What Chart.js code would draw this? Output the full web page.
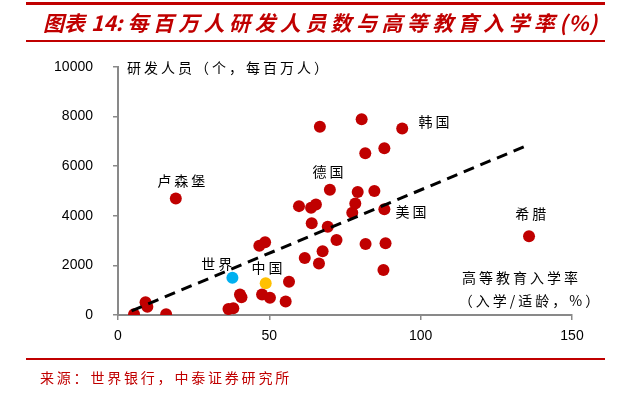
<!DOCTYPE html>
<html>
<head>
<meta charset="utf-8">
<script src="https://cdn.jsdelivr.net/npm/chart.js@4"></script>
<style>
  html, body { margin: 0; padding: 0; background: #fff; }
  #wrap { position: relative; width: 628px; height: 395px; overflow: hidden; }
  #c { position: absolute; left: 0; top: 0; }
  .rule { position: absolute; background: #C00000; }
  #title { position: absolute; left: 43px; top: 8px; white-space: nowrap; color: #C00000;
           font-family: "Noto Sans CJK SC", sans-serif; font-weight: bold; font-style: italic;
           font-size: 21px; line-height: 28px; }
  #title .n { margin-left: 6px; }
  #title .b { letter-spacing: 4.4px; }
  #title .p { letter-spacing: 1px; }
  #src { position: absolute; left: 40px; top: 367px; white-space: nowrap; color: #C00000;
         font-family: "Noto Sans CJK SC", sans-serif; font-size: 14px; letter-spacing: 2.8px; line-height: 20px; }
</style>
</head>
<body>
<div id="wrap">
  <canvas id="c" width="628" height="395"></canvas>
  <div class="rule" style="left:26px; top:2px; width:579px; height:3px;"></div>
  <div id="title">图表<span class="n">14:</span> <span class="b">每百万人研发人员数与高等教育入学率</span><span class="p">(%)</span></div>
  <div class="rule" style="left:26px; top:40px; width:579px; height:2px;"></div>
  <div class="rule" style="left:26px; top:358px; width:579px; height:2px;"></div>
  <div id="src">来源：世界银行，中泰证券研究所</div>
</div>
<script>
// ---- data ----
const otherX = [5.3, 9.1, 9.7, 15.9, 19.1, 36.5, 38.1, 40.3, 40.8, 46.7, 48.6, 47.6, 50.2, 55.4, 56.5,
                59.8, 61.7, 63.8, 65.4, 64.0, 66.4, 66.7, 67.6, 69.3, 70.0, 72.2, 77.4, 78.4, 79.2,
                80.5, 81.7, 81.8, 84.7, 87.7, 88.0, 88.0, 88.4, 93.9, 135.8];
const otherY = [30, 510, 335, 30, 4700, 240, 270, 830, 720, 2790, 2930, 830, 700, 540, 1340,
                4390, 2300, 4320, 4460, 3700, 2080, 7590, 2570, 3560, 5050, 3020, 4120, 4500, 4960,
                7890, 6520, 2860, 5000, 1810, 4260, 6720, 2890, 7520, 3180];
const worldX = [37.8], worldY = [1500];
const chinaX = [48.8], chinaY = [1280];
const trendX = [4.5, 136], trendY = [170, 6880];
const xTicks = [0, 50, 100, 150];
const yTicks = [0, 2000, 4000, 6000, 8000, 10000];
const labelText = ['韩国', '德国', '卢森堡', '美国', '希腊', '世界', '中国'];
const yTitle = '研发人员（个，每百万人）';
const xTitle1 = '高等教育入学率';
const xTitle2 = '（入学/适龄，%）';

// annotation anchors in data coordinates (text centre)
const labelPosX = [104.4, 69.4, 20.9, 96.8, 136.4, 32.6, 49.2];
const labelPosY = [7800, 5780, 5400, 4180, 4080, 2080, 1900];

const zip = (xs, ys) => xs.map((x, i) => ({ x, y: ys[i] }));

const annot = {
  id: 'annot',
  afterDatasetsDraw(chart) {
    const { ctx, scales: { x, y } } = chart;
    ctx.save();
    ctx.fillStyle = '#000';
    ctx.font = '14px "Noto Sans CJK SC"';
    ctx.textBaseline = 'middle';
    if ('letterSpacing' in ctx) ctx.letterSpacing = '3px';
    ctx.textAlign = 'center';
    labelText.forEach((t, i) => {
      ctx.fillText(t, x.getPixelForValue(labelPosX[i]) + 1.5, y.getPixelForValue(labelPosY[i]));
    });
    ctx.fillText(xTitle1, x.getPixelForValue(132.8) + 1.5, y.getPixelForValue(1510));
    ctx.fillText(xTitle2, x.getPixelForValue(135.8) + 1.5, y.getPixelForValue(590));
    ctx.textAlign = 'left';
    ctx.fillText(yTitle, x.left + 9, y.top + 1);
    ctx.restore();
  }
};

const axisGrey = '#898989';
new Chart(document.getElementById('c'), {
  type: 'scatter',
  data: {
    datasets: [
      { data: zip(trendX, trendY), showLine: true, borderColor: '#000', borderWidth: 3,
        borderDash: [11, 7], pointRadius: 0, order: 0 },
      { data: zip(otherX, otherY), backgroundColor: '#C00000', borderColor: '#C00000',
        pointRadius: 6, borderWidth: 0, order: 2 },
      { data: zip(worldX, worldY), backgroundColor: '#00B0F0', borderColor: '#00B0F0',
        pointRadius: 6, borderWidth: 0, order: 1 },
      { data: zip(chinaX, chinaY), backgroundColor: '#FFC000', borderColor: '#FFC000',
        pointRadius: 6, borderWidth: 0, order: 1 }
    ]
  },
  options: {
    responsive: false,
    animation: false,
    events: [],
    layout: { padding: { left: 0, top: 67, right: 56, bottom: 0 } },
    plugins: { legend: { display: false }, tooltip: { enabled: false } },
    scales: {
      x: {
        type: 'linear', min: 0, max: 150,
        afterBuildTicks: s => { s.ticks = xTicks.map(v => ({ value: v })); },
        afterFit: s => { s.height = 80; },
        grid: { drawOnChartArea: false, drawTicks: true, tickLength: 5, color: axisGrey, lineWidth: 1.5 },
        border: { color: axisGrey, width: 2 },
        ticks: { color: '#000', padding: 8, font: { family: '"Liberation Sans"', size: 14 },
                 callback: v => String(v) }
      },
      y: {
        type: 'linear', min: 0, max: 10000,
        afterBuildTicks: s => { s.ticks = yTicks.map(v => ({ value: v })); },
        afterFit: s => { s.width = 118; },
        grid: { drawOnChartArea: false, drawTicks: true, tickLength: 5, color: axisGrey, lineWidth: 1.5 },
        border: { color: axisGrey, width: 2 },
        ticks: { color: '#000', padding: 20, font: { family: '"Liberation Sans"', size: 14 },
                 callback: v => String(v) }
      }
    }
  },
  plugins: [annot]
});
</script>
</body>
</html>
